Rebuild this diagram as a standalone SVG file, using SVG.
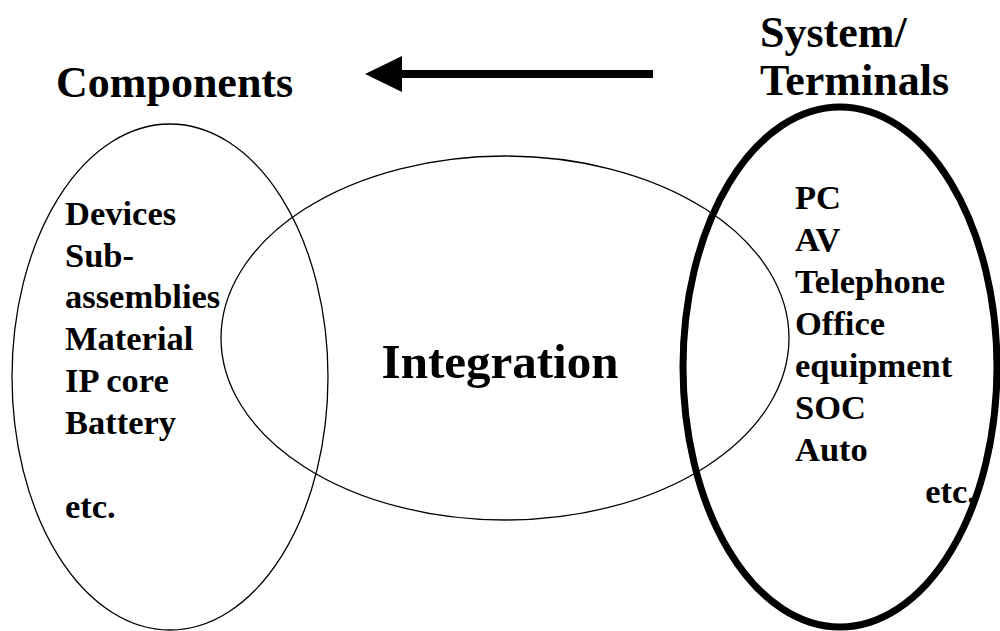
<svg xmlns="http://www.w3.org/2000/svg" width="1000" height="631" viewBox="0 0 1000 631">
  <style>
    .bg { fill: #ffffff; }
    .ring { fill: none; stroke: #000000; stroke-width: 1.3; }
    .ring-bold { fill: none; stroke: #000000; stroke-width: 7; }
    .title { font-family: "Liberation Serif", "Times New Roman", serif; font-weight: bold; font-size: 44px; fill: #000000; }
    .center { font-family: "Liberation Serif", "Times New Roman", serif; font-weight: bold; font-size: 49px; fill: #000000; }
    .item { font-family: "Liberation Serif", "Times New Roman", serif; font-weight: bold; font-size: 34.5px; fill: #000000; }
    .flow { stroke: #000000; stroke-width: 8; fill: none; }
  </style>
  <defs>
    <marker id="arrowHead" markerUnits="userSpaceOnUse" markerWidth="37" markerHeight="36" refX="0" refY="18" orient="auto">
      <path d="M0,0 L37,18 L0,36 Z" fill="#000000"/>
    </marker>
  </defs>

  <rect class="bg" x="0" y="0" width="1000" height="631"/>

  <!-- Components set -->
  <g id="components">
    <ellipse class="ring" cx="170" cy="377" rx="158" ry="253"/>
    <text class="title" x="56" y="97">Components</text>
    <text class="item" x="65">
      <tspan x="65" y="225">Devices</tspan>
      <tspan x="65" y="267">Sub-</tspan>
      <tspan x="65" y="308">assemblies</tspan>
      <tspan x="65" y="350">Material</tspan>
      <tspan x="65" y="392">IP core</tspan>
      <tspan x="65" y="434">Battery</tspan>
      <tspan x="65" y="518">etc.</tspan>
    </text>
  </g>

  <!-- Integration set -->
  <g id="integration">
    <ellipse class="ring" cx="505" cy="338" rx="284" ry="182"/>
    <text class="center" x="500" y="378" text-anchor="middle">Integration</text>
  </g>

  <!-- System / Terminals set -->
  <g id="system-terminals">
    <ellipse class="ring-bold" cx="840" cy="367" rx="157" ry="260"/>
    <text class="title" x="760" y="47">System/</text>
    <text class="title" x="760" y="95">Terminals</text>
    <text class="item">
      <tspan x="795" y="209">PC</tspan>
      <tspan x="795" y="251">AV</tspan>
      <tspan x="795" y="293">Telephone</tspan>
      <tspan x="795" y="335">Office</tspan>
      <tspan x="795" y="377">equipment</tspan>
      <tspan x="795" y="419">SOC</tspan>
      <tspan x="795" y="461">Auto</tspan>
      <tspan x="976" y="503" text-anchor="end">etc.</tspan>
    </text>
  </g>

  <!-- Flow direction -->
  <g id="connectors">
    <line class="flow" x1="653" y1="74" x2="402" y2="74" marker-end="url(#arrowHead)"/>
  </g>
</svg>
